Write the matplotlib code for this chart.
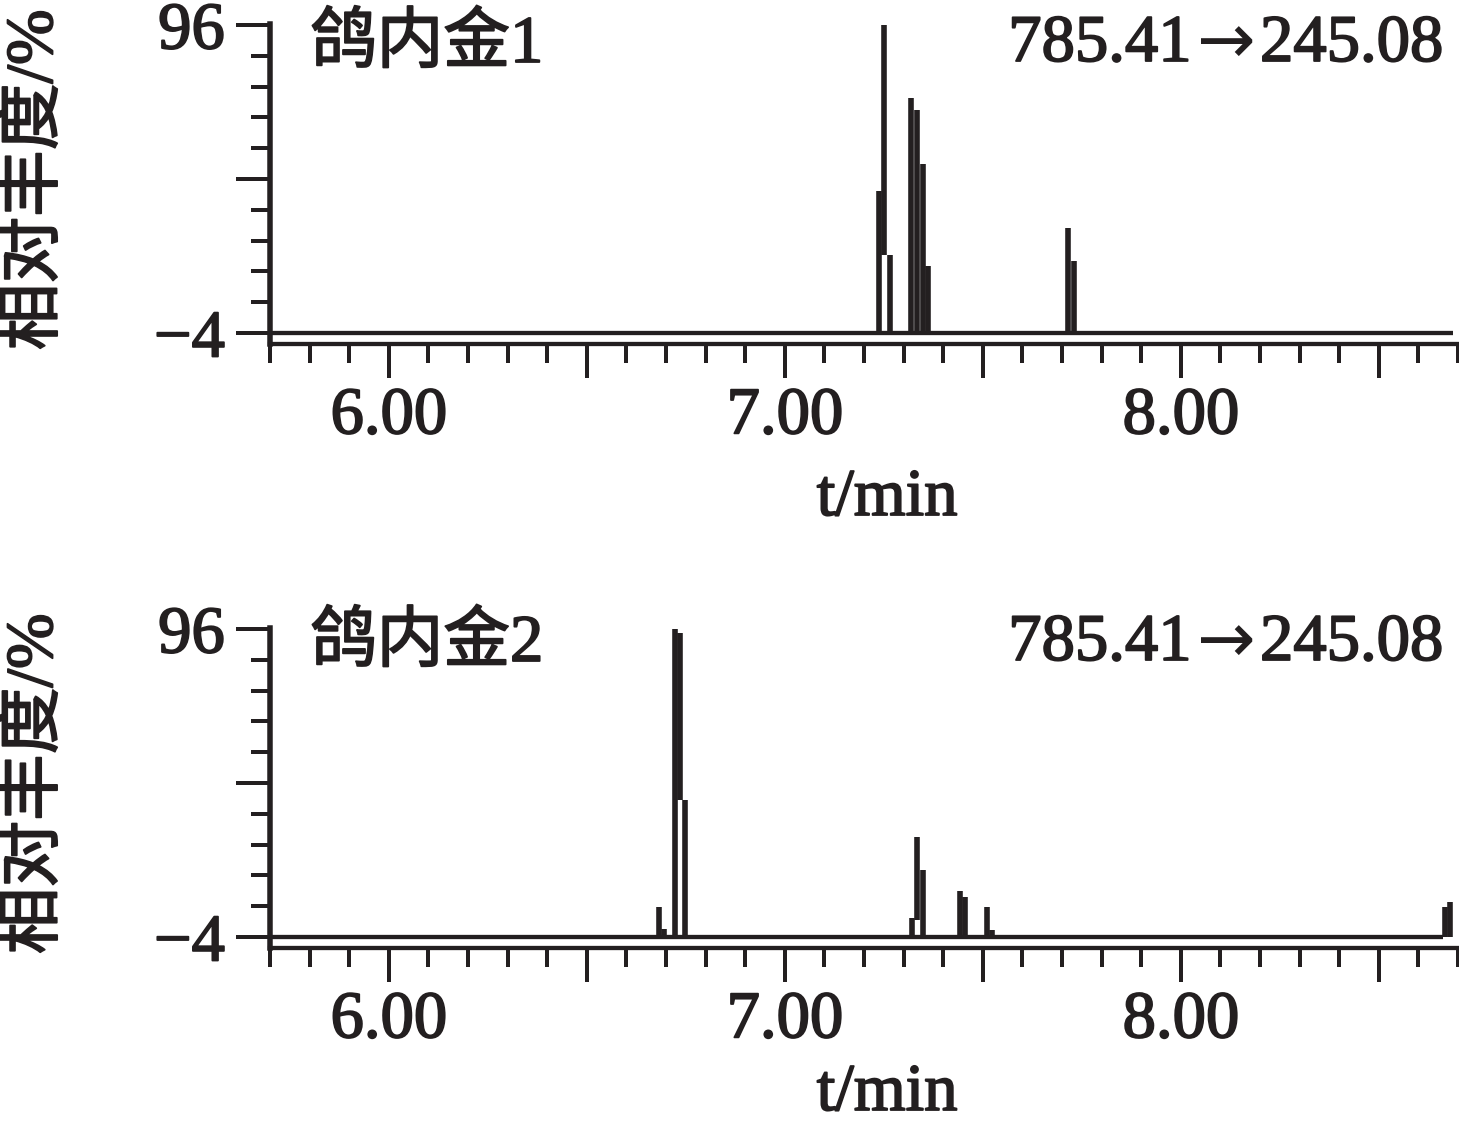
import numpy as np
import matplotlib
matplotlib.use("Agg")
import matplotlib.pyplot as plt
import matplotlib.patheffects as pe
from matplotlib.ticker import FixedLocator, FixedFormatter, NullFormatter

# ---------------- data ----------------
time_limits = [5.70, 8.70]
intensity_limits = [-7.57, 96.3]
baseline = -4.0

x_major = [6.0, 6.5, 7.0, 7.5, 8.0, 8.5]
x_major_labels = ["6.00", "", "7.00", "", "8.00", ""]
x_minor = [round(v, 2) for v in np.arange(5.7, 8.71, 0.1)]
y_major = [-4, 46, 96]
y_major_labels = ["\u22124", "", "96"]
y_minor = list(range(-4, 97, 10))

panel_names = ["鸽内金1", "鸽内金2"]
precursor_ion = "785.41"
product_ion = "245.08"
arrow = "\u2192"
y_title = "相对丰度/%"
x_title = "t/min"

# panel 1 (top): stick time, top and bottom intensity
top_end = 8.687
top_t = [7.237, 7.251, 7.265, 7.319, 7.333, 7.348, 7.362, 7.716, 7.730]
top_hi = [42.1, 96.0, 21.3, 72.3, 68.4, 50.9, 17.8, 30.1, 19.4]
top_lo = [-4, 21.3, -4, -4, -4, -4, -4, -4, -4]

# panel 2 (bottom)
bot_end = 8.662
bot_t = [6.682, 6.694, 6.722, 6.736, 6.749, 7.321, 7.335, 7.349,
         7.443, 7.456, 7.511, 7.523, 8.667, 8.681]
bot_hi = [5.7, -1.4, 96.0, 94.7, 40.5, 2.2, 28.5, 17.8,
          10.9, 9.0, 5.7, -1.7, 5.7, 7.4]
bot_lo = [-4, -4, -4, 40.5, -4, -4, 1.5, -4,
          -4, -4, -4, -4, -4, -4]

# ---------------- style ----------------
plt.rcParams["font.family"] = ["Liberation Serif", "Noto Sans CJK SC"]
plt.rcParams["axes.unicode_minus"] = True
INK = "#231f20"
FS = 48
W, H = 1459, 1123
px = 72.0 / 100.0  # points per pixel
BOLDEN = [pe.withStroke(linewidth=1.3, foreground=INK)]

fig = plt.figure(figsize=(W / 100, H / 100), dpi=100)
renderer = fig.canvas.get_renderer()


def fx(x):
    return x / W


def fy(y):
    return 1 - y / H


def txt(x, y, s, **kw):
    t = fig.text(fx(x), fy(y), s, fontsize=FS, color=INK, **kw)
    t.set_path_effects(BOLDEN)
    return t


def transition_label(x_right, y_base):
    t3 = txt(x_right, y_base, product_ion, ha="right", va="baseline")
    bb = t3.get_window_extent(renderer)
    x_arrow_right = bb.x0 - 4
    t2 = fig.text(x_arrow_right / W, fy(y_base + 2), arrow, fontsize=FS * 1.05,
                  color=INK, ha="right", va="baseline",
                  family=["DejaVu Sans"])
    bb2 = t2.get_window_extent(renderer)
    txt(bb2.x0 - 6, y_base, precursor_ion, ha="right", va="baseline")


def make_panel(bottom_px, t, hi, lo, end, name, label_base):
    ax = fig.add_axes([fx(270), fy(bottom_px), (1458 - 270) / W, 320 / H])
    ax.set_xlim(*time_limits)
    ax.set_ylim(*intensity_limits)
    ax.plot([time_limits[0], end], [baseline, baseline], color=INK,
            lw=4.3 * px, solid_capstyle="butt")
    ax.vlines(t, lo, hi, colors=INK, linewidth=5.6 * px)
    for s in ["top", "right"]:
        ax.spines[s].set_visible(False)
    ax.spines["left"].set_linewidth(5.5 * px)
    ax.spines["bottom"].set_linewidth(4.3 * px)
    ax.spines["left"].set_color(INK)
    ax.spines["bottom"].set_color(INK)
    ax.xaxis.set_major_locator(FixedLocator(x_major))
    ax.xaxis.set_major_formatter(FixedFormatter(x_major_labels))
    ax.xaxis.set_minor_locator(FixedLocator([v for v in x_minor if v not in x_major]))
    ax.xaxis.set_minor_formatter(NullFormatter())
    ax.yaxis.set_major_locator(FixedLocator(y_major))
    ax.yaxis.set_major_formatter(FixedFormatter(y_major_labels))
    ax.yaxis.set_minor_locator(FixedLocator([v for v in y_minor if v not in y_major]))
    ax.yaxis.set_minor_formatter(NullFormatter())
    ax.tick_params(which="major", length=34 * px, width=4 * px, color=INK,
                   labelsize=FS, labelcolor=INK)
    ax.tick_params(which="minor", length=19 * px, width=4 * px, color=INK)
    ax.tick_params(axis="x", which="major", pad=6)
    ax.tick_params(axis="y", which="major", pad=8)
    for lab in ax.get_xticklabels() + ax.get_yticklabels():
        lab.set_path_effects(BOLDEN)
    # panel titles
    txt(310, label_base, name, ha="left", va="baseline")
    transition_label(1443, label_base - 1)
    return ax


make_panel(344, top_t, top_hi, top_lo, top_end, panel_names[0], 62)
make_panel(948, bot_t, bot_hi, bot_lo, bot_end, panel_names[1], 661)

txt(887, 515, x_title, ha="center", va="baseline")
txt(887, 1110, x_title, ha="center", va="baseline")
txt(35, 180, y_title, rotation=90, ha="center", va="center")
txt(35, 784, y_title, rotation=90, ha="center", va="center")

fig.savefig("out.png", dpi=100, facecolor="white")
